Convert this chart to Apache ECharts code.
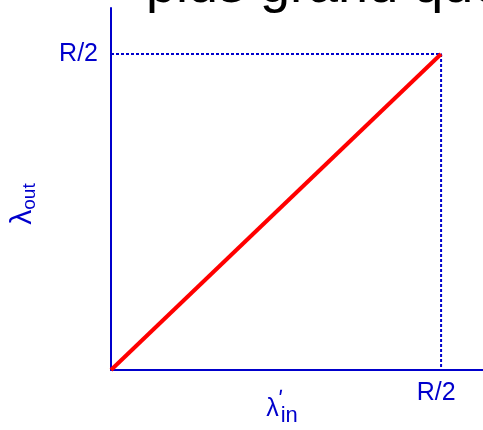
<!DOCTYPE html>
<html>
<head>
<meta charset="utf-8">
<script src="https://cdn.jsdelivr.net/npm/echarts@6/dist/echarts.min.js"></script>
<style>html,body{margin:0;padding:0;background:#fff;}#c{width:483px;height:430px;}</style>
</head>
<body>
<div id="c"></div>
<script>
// Data
const throughputLine = [[0, 0], [1, 1]];      // λout = λ'in up to R/2
const guideLine = [[0, 1], [1, 1], [1, 0]];   // dotted guides to R/2
const tickValues = [1];
const tickLabels = ['R/2'];
const titleText = 'plus grand que';

const BLUE = '#0000cc';
const chart = echarts.init(document.getElementById('c'));
chart.setOption({
  animation: false,
  backgroundColor: '#fff',
  grid: { left: 111, right: 0, top: 8, bottom: 60, containLabel: false, outerBoundsMode: 'none' },
  xAxis: {
    type: 'value', min: 0, max: 1.127,
    axisLine: { show: true, lineStyle: { color: BLUE, width: 2 } },
    axisTick: { show: false },
    splitLine: { show: false },
    axisLabel: {
      customValues: tickValues,
      formatter: v => tickLabels[tickValues.indexOf(v)] || '',
      color: BLUE, fontSize: 25, fontFamily: 'Liberation Sans', margin: 11,
      padding: [0, 10, 0, 0]
    },
    name: '{a|λ}{p|ʹ}{b|in}',
    nameLocation: 'middle', nameGap: 20, nameMoveOverlap: false,
    nameTextStyle: {
      padding: [0, 30, 0, 0],
      rich: {
        a: { fontSize: 25, color: BLUE, fontFamily: 'Liberation Sans' },
        p: { fontSize: 22, color: BLUE, fontFamily: 'DejaVu Sans', width: 0, padding: [0, 0, 16, 2] },
        b: { fontSize: 22, color: BLUE, fontFamily: 'Liberation Sans', padding: [14, 0, 0, 0] }
      }
    }
  },
  yAxis: {
    type: 'value', min: 0, max: 1.1456,
    axisLine: { show: true, lineStyle: { color: BLUE, width: 2 } },
    axisTick: { show: false },
    splitLine: { show: false },
    axisLabel: {
      customValues: tickValues,
      formatter: v => tickLabels[tickValues.indexOf(v)] || '',
      color: BLUE, fontSize: 25, fontFamily: 'Liberation Sans', margin: 13
    },
    name: '{a|λ}{b|out}',
    nameLocation: 'middle', nameGap: 72, nameRotate: 90, nameMoveOverlap: false,
    nameTextStyle: {
      padding: [0, 30, 0, 0],
      rich: {
        a: { fontSize: 30, color: BLUE, fontFamily: 'Liberation Sans' },
        b: { fontSize: 19, color: BLUE, fontFamily: 'Liberation Sans', padding: [14, 0, 0, 0] }
      }
    }
  },
  series: [
    {
      type: 'line', data: guideLine, symbol: 'none', silent: true,
      lineStyle: { color: BLUE, width: 2, type: [3, 2] }
    },
    {
      type: 'line', data: throughputLine, symbol: 'none', silent: true,
      lineStyle: { color: '#ff0000', width: 4 }
    }
  ],
  graphic: [{
    type: 'text', x: 146, y: -40,
    style: { text: titleText, font: '54px "Liberation Sans"', fill: '#000', verticalAlign: 'top' }
  }]
});
</script>
</body>
</html>
